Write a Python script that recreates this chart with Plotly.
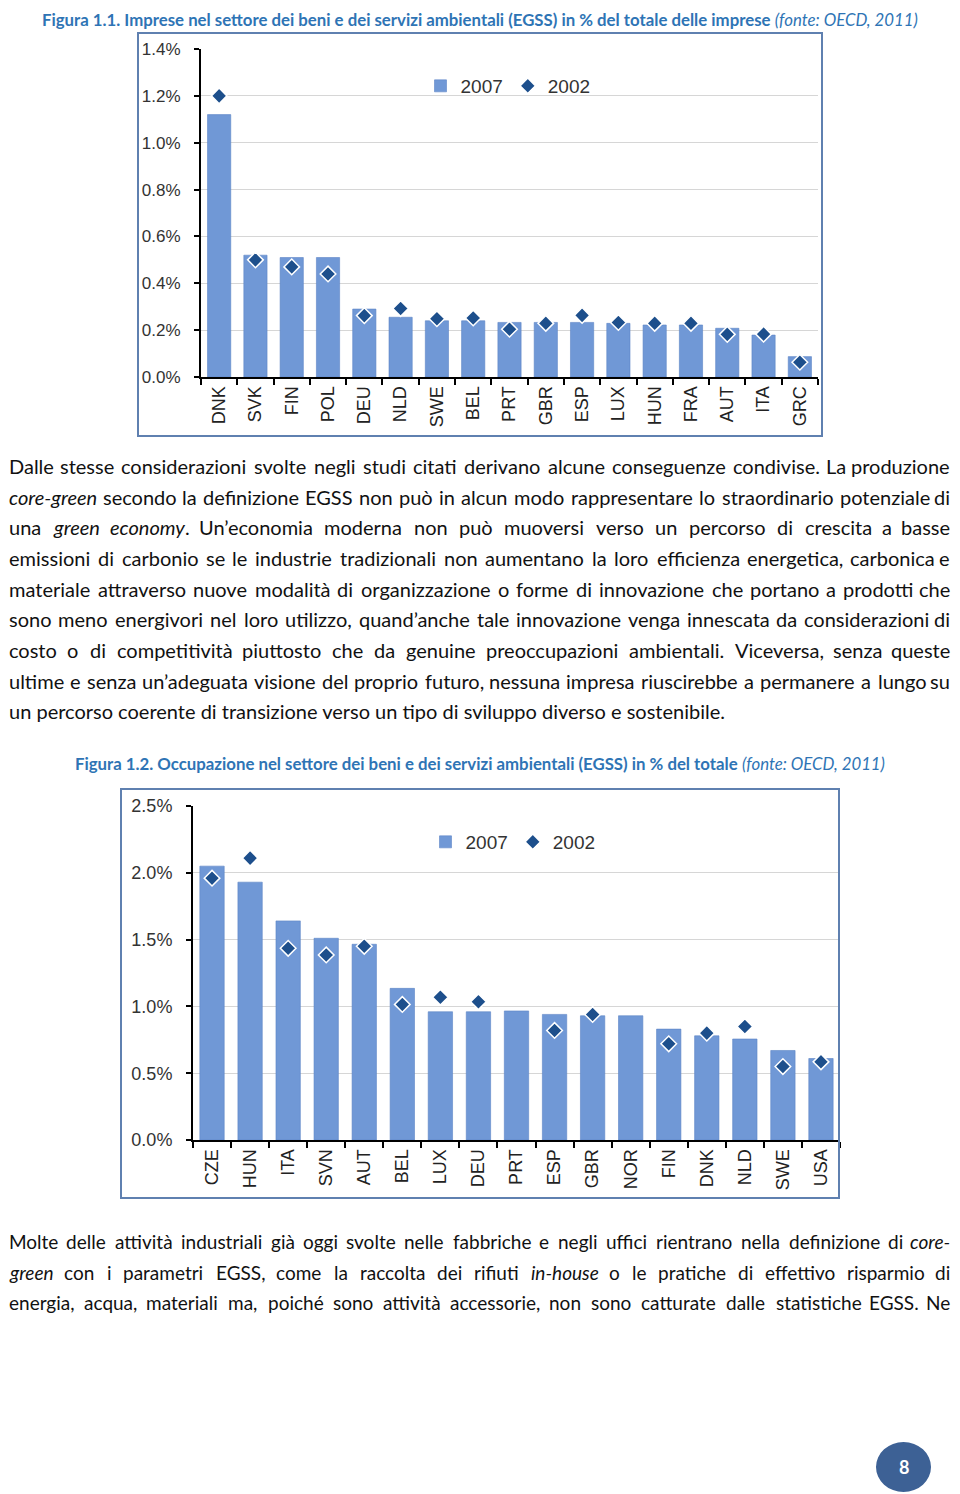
import re
import plotly.graph_objects as go

# ---------------- data ----------------
# Figura 1.1 – firms in EGSS, % of total firms
cats1 = ["DNK", "SVK", "FIN", "POL", "DEU", "NLD", "SWE", "BEL", "PRT",
         "GBR", "ESP", "LUX", "HUN", "FRA", "AUT", "ITA", "GRC"]
firms_2007 = [1.12, 0.52, 0.51, 0.51, 0.29, 0.255, 0.24, 0.24, 0.233,
              0.233, 0.233, 0.229, 0.222, 0.222, 0.208, 0.179, 0.087]
firms_2002 = [1.20, 0.50, 0.47, 0.44, 0.262, 0.292, 0.249, 0.252, 0.204,
              0.229, 0.263, 0.233, 0.229, 0.229, 0.182, 0.183, 0.063]

# Figura 1.2 – employment in EGSS, % of total
cats2 = ["CZE", "HUN", "ITA", "SVN", "AUT", "BEL", "LUX", "DEU", "PRT",
         "ESP", "GBR", "NOR", "FIN", "DNK", "NLD", "SWE", "USA"]
emp_2007 = [2.05, 1.93, 1.64, 1.51, 1.465, 1.135, 0.96, 0.96, 0.966,
            0.94, 0.93, 0.93, 0.83, 0.78, 0.756, 0.67, 0.61]
emp_2002 = [1.96, 2.11, 1.435, 1.385, 1.45, 1.015, 1.068, 1.035, None,
            0.82, 0.94, None, 0.72, 0.80, 0.85, 0.55, 0.585]

series_names = ["2007", "2002"]

caption1 = ("<b>Figura 1.1. Imprese nel settore dei beni e dei servizi ambientali (EGSS) "
            "in % del totale delle imprese</b> <i>(fonte: OECD, 2011)</i>")
caption2 = ("<b>Figura 1.2. Occupazione nel settore dei beni e dei servizi ambientali (EGSS) "
            "in % del totale</b> <i>(fonte: OECD, 2011)</i>")

para1 = [
    "Dalle stesse considerazioni svolte negli studi citati derivano alcune conseguenze condivise. La produzione",
    "<i>core-green</i> secondo la definizione EGSS non può in alcun modo rappresentare lo straordinario potenziale di",
    "una <i>green</i> <i>economy</i>. Un’economia moderna non può muoversi verso un percorso di crescita a basse",
    "emissioni di carbonio se le industrie tradizionali non aumentano la loro efficienza energetica, carbonica e",
    "materiale attraverso nuove modalità di organizzazione o forme di innovazione che portano a prodotti che",
    "sono meno energivori nel loro utilizzo, quand’anche tale innovazione venga innescata da considerazioni di",
    "costo o di competitività piuttosto che da genuine preoccupazioni ambientali. Viceversa, senza queste",
    "ultime e senza un’adeguata visione del proprio futuro, nessuna impresa riuscirebbe a permanere a lungo su",
    "un percorso coerente di transizione verso un tipo di sviluppo diverso e sostenibile.",
]
para2 = [
    "Molte delle attività industriali già oggi svolte nelle fabbriche e negli uffici rientrano nella definizione di <i>core-</i>",
    "<i>green</i> con i parametri EGSS, come la raccolta dei rifiuti <i>in-house</i> o le pratiche di effettivo risparmio di",
    "energia, acqua, materiali ma, poiché sono attività accessorie, non sono catturate dalle statistiche EGSS. Ne",
]
page_number = "8"

# ---------------- geometry helpers ----------------
# the page body adds an 8 px margin, so the figure is sized to fit inside it
OFF = 8
FW, FH = 960 - 2 * OFF, 1494 - OFF

ARIAL = "Liberation Sans, Arial, sans-serif"
BODY = "Lato, Carlito, Calibri, sans-serif"
BAR_C = "#7098d6"
DIA_C = "#1d4f8c"
FRAME_C = "#5f80b0"
CAP_C = "#2e74b5"


def px(x):
    return (x - OFF) / FW


def py(y):
    return 1 - (y - OFF) / FH


LATO_W = {' ': 0.193, 'a': 0.49, 'b': 0.56, 'c': 0.46, 'd': 0.56, 'e': 0.52, 'f': 0.32,
          'g': 0.50, 'h': 0.56, 'i': 0.24, 'j': 0.24, 'k': 0.50, 'l': 0.24, 'm': 0.84,
          'n': 0.56, 'o': 0.56, 'p': 0.55, 'q': 0.56, 'r': 0.37, 's': 0.42, 't': 0.35,
          'u': 0.56, 'v': 0.50, 'w': 0.76, 'x': 0.49, 'y': 0.50, 'z': 0.46, '.': 0.2,
          ',': 0.2, '’': 0.2, '-': 0.35, 'D': 0.69, 'E': 0.58, 'G': 0.72, 'L': 0.48,
          'M': 0.87, 'N': 0.73, 'S': 0.53, 'U': 0.70, 'V': 0.66, 'à': 0.49, 'è': 0.52,
          'é': 0.52, 'ò': 0.56, 'ù': 0.56, 'ì': 0.24}


def est(word, size):
    plain = re.sub(r"<[^>]+>", "", word)
    w = sum(LATO_W.get(c, 0.55) for c in plain) * size
    return w * (0.92 if "<i>" in word else 1.0)


annotations = []


def add_line(text, y, size, justify=True, left=OFF, right=951):
    fnt = dict(family=BODY, size=size, color="#111111")
    if not justify:
        annotations.append(dict(text=text, x=px(left), y=py(y), xref="paper", yref="paper",
                                xanchor="left", yanchor="middle", showarrow=False, font=fnt,
                                borderpad=0))
        return
    words = text.split(" ")
    widths = [est(w, size) for w in words]
    gap = (right - left - sum(widths)) / (len(words) - 1)
    x = left
    for i, (w, wd) in enumerate(zip(words, widths)):
        last = i == len(words) - 1
        annotations.append(dict(text=w, x=px(right if last else x), y=py(y),
                                xref="paper", yref="paper",
                                xanchor="right" if last else "left", yanchor="middle",
                                showarrow=False, font=fnt, borderpad=0))
        x += wd + gap


for i, (line, y) in enumerate(zip(para1, [466, 497, 527, 558, 589, 619, 650, 681, 711])):
    add_line(line, y, 20, justify=(i < len(para1) - 1))
for line, y in zip(para2, [1241, 1272, 1302]):
    add_line(line, y, 19)

annotations.append(dict(text=caption1, x=px(480), y=1.0, xref="paper", yref="paper",
                        xanchor="center", yanchor="top", showarrow=False, borderpad=0,
                        font=dict(family=BODY, size=16.8, color=CAP_C)))
annotations.append(dict(text=caption2, x=px(480), y=py(763), xref="paper", yref="paper",
                        xanchor="center", yanchor="middle", showarrow=False,
                        font=dict(family=BODY, size=16.8, color=CAP_C)))

annotations.append(dict(text="<b>" + page_number + "</b>", x=px(904), y=py(1467),
                        xref="paper", yref="paper", xanchor="center", yanchor="middle",
                        showarrow=False, font=dict(family=BODY, size=18, color="white")))

# ---------------- figure ----------------
fig = go.Figure()
fig.add_trace(go.Bar(x=cats1, y=firms_2007, name=series_names[0], xaxis="x", yaxis="y",
                     marker=dict(color=BAR_C, line=dict(color="#5c84c6", width=0.6)),
                     legend="legend"))
fig.add_trace(go.Scatter(x=cats1, y=firms_2002, name=series_names[1], mode="markers",
                         xaxis="x", yaxis="y", legend="legend",
                         marker=dict(symbol="diamond", size=12, color=DIA_C,
                                     line=dict(color="white", width=1.5))))
fig.add_trace(go.Bar(x=cats2, y=emp_2007, name=series_names[0], xaxis="x2", yaxis="y2",
                     marker=dict(color=BAR_C, line=dict(color="#5c84c6", width=0.6)),
                     legend="legend2"))
fig.add_trace(go.Scatter(x=cats2, y=emp_2002, name=series_names[1], mode="markers",
                         xaxis="x2", yaxis="y2", legend="legend2",
                         marker=dict(symbol="diamond", size=12, color=DIA_C,
                                     line=dict(color="white", width=1.5))))

xcommon = dict(type="category", showline=True, linecolor="black", linewidth=2,
               ticks="outside", tickson="boundaries", ticklen=6, tickwidth=1.5,
               tickcolor="black", tickangle=-90, showgrid=False, automargin=False,
               tickfont=dict(family=ARIAL, size=18, color="#222222"))
ycommon = dict(showline=True, linecolor="black", linewidth=2, ticks="outside",
               ticklen=5, tickwidth=1.5, tickcolor="black", gridcolor="#d6d6d6",
               gridwidth=1, zeroline=False, tickformat=".1f", ticksuffix="%",
               ticklabelstandoff=10, automargin=False)
legcommon = dict(orientation="h", xanchor="center", yanchor="middle",
                 bgcolor="rgba(0,0,0,0)", font=dict(family=ARIAL, size=19, color="#333333"),
                 itemwidth=30, traceorder="normal")

fig.update_layout(
    width=FW, height=FH,
    margin=dict(l=0, r=0, t=0, b=0, pad=0, autoexpand=False),
    paper_bgcolor="white", plot_bgcolor="white",
    bargap=0.36, showlegend=True,
    xaxis=dict(domain=[px(201), px(818)], anchor="y", range=[-0.5, len(cats1) - 0.5], **xcommon),
    yaxis=dict(domain=[py(377), py(49)], anchor="x", range=[0, 1.4001], dtick=0.2,
               tickfont=dict(family=ARIAL, size=17, color="#333333"), **ycommon),
    xaxis2=dict(domain=[px(193), px(840)], anchor="y2", range=[-0.5, len(cats2) - 0.5], **xcommon),
    yaxis2=dict(domain=[py(1140), py(806)], anchor="x2", range=[0, 2.5001], dtick=0.5,
                tickfont=dict(family=ARIAL, size=18, color="#333333"), **ycommon),
    legend=dict(x=px(508), y=py(86), **legcommon),
    legend2=dict(x=px(513), y=py(842), **legcommon),
    annotations=annotations,
    shapes=[
        dict(type="rect", xref="paper", yref="paper", x0=px(138), x1=px(822),
             y0=py(436), y1=py(33), line=dict(color=FRAME_C, width=2)),
        dict(type="rect", xref="paper", yref="paper", x0=px(121), x1=px(839),
             y0=py(1198), y1=py(789), line=dict(color=FRAME_C, width=2)),
        dict(type="circle", xref="paper", yref="paper", x0=px(876), x1=px(931),
             y0=py(1492), y1=py(1442), fillcolor="#3d6195", line=dict(width=0)),
    ],
)

fig.write_html("out.html")
